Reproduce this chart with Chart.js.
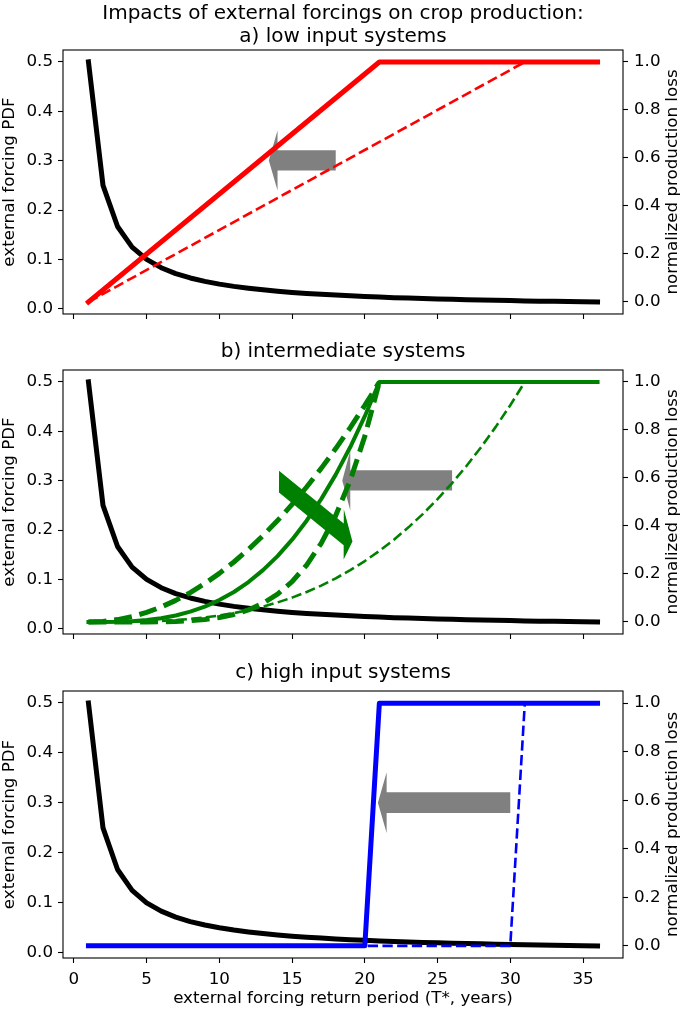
<!DOCTYPE html>
<html>
<head>
  <title>Impacts of external forcings on crop production</title>
  <style>
    body { margin: 0; background: #fff; }
    #fig { position: relative; width: 686px; height: 1011px; }
    #fig canvas { position: absolute; left: 0; }
  </style>
  <script src="https://cdn.jsdelivr.net/npm/chart.js"></script>
</head>
<body>
<div id="fig">
  <canvas id="panelA" width="686" height="330" style="top:0px"></canvas>
  <canvas id="panelB" width="686" height="320" style="top:330px"></canvas>
  <canvas id="panelC" width="686" height="361" style="top:650px"></canvas>
</div>
<script>
  // return period T* (years) and the PDF of the external forcing
  const returnPeriod = [1, 2, 3, 4, 5, 6, 7, 8, 9, 10, 11, 12, 13, 14, 15, 16, 17, 18,
    19, 20, 21, 22, 23, 24, 25, 26, 27, 28, 29, 30, 31, 32, 33, 34, 35, 36];
  const forcingPdf = [0.5, 0.25, 0.1667, 0.125, 0.1, 0.0833, 0.0714, 0.0625, 0.0556, 0.05,
    0.0455, 0.0417, 0.0385, 0.0357, 0.0333, 0.0313, 0.0294, 0.0278, 0.0263, 0.025,
    0.0238, 0.0227, 0.0217, 0.0208, 0.02, 0.0192, 0.0185, 0.0179, 0.0172, 0.0167,
    0.0161, 0.0156, 0.0152, 0.0147, 0.0143, 0.0139];

  // tick labels
  const periodTicks = [0, 5, 10, 15, 20, 25, 30, 35];
  const pdfTicks = [0, 0.1, 0.2, 0.3, 0.4, 0.5];
  const lossTicks = [0, 0.2, 0.4, 0.6, 0.8, 1];

  // a) low input systems
  const lowNowPeriod = [1, 21, 36];
  const lowLossNow = [0, 1, 1];
  const lowPastPeriod = [1, 31];
  const lowLossPast = [0, 1];

  // b) intermediate systems
  const midNowPeriod = [1, 2, 3, 4, 5, 6, 7, 8, 9, 10, 11, 12, 13, 14, 15, 16, 17, 18, 19, 20, 21, 36];
  const midLossNow = [0, 0.0001, 0.001, 0.0034, 0.008, 0.0156, 0.027, 0.0429, 0.064, 0.0911, 0.125,
    0.1664, 0.216, 0.2746, 0.343, 0.4219, 0.512, 0.6141, 0.729, 0.8574, 1, 1];
  const midRangePeriod = [1, 2, 3, 4, 5, 6, 7, 8, 9, 10, 11, 12, 13, 14, 15, 16, 17, 18, 19, 20, 21];
  const midLossEarly = [0, 0.0025, 0.01, 0.0225, 0.04, 0.0625, 0.09, 0.1225, 0.16, 0.2025, 0.25,
    0.3025, 0.36, 0.4225, 0.49, 0.5625, 0.64, 0.7225, 0.81, 0.9025, 1];
  const midLossLate = [0, 0, 0, 0.0001, 0.0003, 0.001, 0.0024, 0.0053, 0.0102, 0.0185, 0.0313,
    0.0503, 0.0778, 0.116, 0.1681, 0.2373, 0.3277, 0.4437, 0.5905, 0.7738, 1];
  const midPastPeriod = [1, 2, 3, 4, 5, 6, 7, 8, 9, 10, 11, 12, 13, 14, 15, 16, 17, 18, 19, 20,
    21, 22, 23, 24, 25, 26, 27, 28, 29, 30, 31];
  const midLossPast = [0, 0, 0.0003, 0.001, 0.0024, 0.0046, 0.008, 0.0127, 0.019, 0.027, 0.037,
    0.0493, 0.064, 0.0814, 0.1016, 0.125, 0.1517, 0.182, 0.216, 0.254, 0.2963, 0.343, 0.3944,
    0.4506, 0.512, 0.5787, 0.651, 0.729, 0.813, 0.9033, 1];

  // c) high input systems
  const highNowPeriod = [1, 20, 21, 36];
  const highLossNow = [0, 0, 1, 1];
  const highPastPeriod = [1, 30, 31];
  const highLossPast = [0, 0, 1];

  const FONT = "'DejaVu Sans', sans-serif";
  Chart.defaults.font.family = FONT;
  Chart.defaults.font.size = 16.7;
  Chart.defaults.color = '#000';

  function pts(xs, ys) {
    return xs.map((x, i) => ({x: x, y: ys[i]}));
  }

  function lossLine(xs, ys, color, width, dash) {
    return {
      data: pts(xs, ys), yAxisID: 'y2', borderColor: color, borderWidth: width,
      borderDash: dash || [], borderCapStyle: dash ? 'butt' : 'square', borderJoinStyle: 'round',
      pointRadius: 0, fill: false, tension: 0, order: 0
    };
  }

  function pdfLine() {
    return {
      data: pts(returnPeriod, forcingPdf), yAxisID: 'y', borderColor: '#000', borderWidth: 5,
      borderCapStyle: 'square', borderJoinStyle: 'round', pointRadius: 0, fill: false, order: 10
    };
  }

  function setTicks(values) {
    return s => { s.ticks = values.map(v => ({value: v})); };
  }

  // arrows given in data units (x axis / right axis), drawn like matplotlib's FancyArrow
  function arrowPlugin(items) {
    return {
      id: 'arrows',
      beforeDatasetsDraw(chart) {
        const xs = chart.scales.x, ys = chart.scales.y2, ctx = chart.ctx;
        items.forEach(a => {
          const dist = Math.hypot(a.dx, a.dy);
          const ux = a.dx / dist, uy = a.dy / dist;
          const len = dist + a.headLength;
          const back = len - a.headLength;
          const shape = [[0, a.width / 2], [back, a.width / 2], [back, a.headWidth / 2], [len, 0],
            [back, -a.headWidth / 2], [back, -a.width / 2], [0, -a.width / 2]];
          ctx.save();
          ctx.beginPath();
          shape.forEach(([s, t], i) => {
            const px = xs.getPixelForValue(a.x + s * ux - t * uy);
            const py = ys.getPixelForValue(a.y + s * uy + t * ux);
            if (i) ctx.lineTo(px, py); else ctx.moveTo(px, py);
          });
          ctx.closePath();
          ctx.fillStyle = a.color;
          ctx.fill();
          ctx.restore();
        });
      }
    };
  }

  const framePlugin = {
    id: 'frame',
    afterDatasetsDraw(chart) {
      const {ctx, chartArea: a} = chart;
      ctx.save();
      ctx.strokeStyle = '#000';
      ctx.lineWidth = 1.1;
      ctx.strokeRect(a.left, a.top, a.right - a.left, a.bottom - a.top);
      // right axis title reads bottom to top, like matplotlib
      ctx.translate(673, (a.top + a.bottom) / 2);
      ctx.rotate(-Math.PI / 2);
      ctx.fillStyle = '#000';
      ctx.font = '16.7px ' + FONT;
      ctx.textAlign = 'center';
      ctx.textBaseline = 'middle';
      ctx.fillText('normalized production loss', 0, 0);
      ctx.restore();
    }
  };

  function makePanel(id, title, titlePad, datasets, arrows, showX, xHeight) {
    const tickGrid = {drawOnChartArea: false, drawTicks: true, tickLength: 5, tickColor: '#000', tickWidth: 1.1};
    return new Chart(document.getElementById(id), {
      type: 'line',
      data: {datasets: datasets},
      options: {
        responsive: false,
        animation: false,
        layout: {padding: 0},
        plugins: {
          legend: {display: false},
          tooltip: {enabled: false},
          title: {
            display: true, text: title, color: '#000',
            font: {size: 20, weight: 'normal', lineHeight: 1.15},
            padding: titlePad
          }
        },
        scales: {
          x: {
            type: 'linear', min: -0.75, max: 37.75, bounds: 'data',
            afterBuildTicks: setTicks(periodTicks),
            ticks: {display: showX, padding: 7, maxRotation: 0},
            grid: tickGrid, border: {display: false},
            title: {display: showX, text: 'external forcing return period (T*, years)', padding: {top: 0, bottom: 2.5}},
            afterFit(s) { s.height = xHeight; }
          },
          y: {
            type: 'linear', position: 'left', min: -0.0104, max: 0.524, bounds: 'data',
            afterBuildTicks: setTicks(pdfTicks),
            ticks: {padding: 5, callback: v => v.toFixed(1)},
            grid: tickGrid, border: {display: false},
            title: {display: true, text: 'external forcing PDF', padding: {top: 0, bottom: 0}},
            afterFit(s) { s.width = 63; }
          },
          y2: {
            type: 'linear', position: 'right', min: -0.05, max: 1.05, bounds: 'data',
            afterBuildTicks: setTicks(lossTicks),
            ticks: {padding: 6, callback: v => v.toFixed(1)},
            grid: tickGrid, border: {display: false},
            afterFit(s) { s.width = 63; }
          }
        }
      },
      plugins: [arrowPlugin(arrows), framePlugin]
    });
  }

  makePanel('panelA',
    ['Impacts of external forcings on crop production:', 'a) low input systems'],
    {top: 2.5, bottom: 1.5},
    [
      lossLine(lowPastPeriod, lowLossPast, '#ff0000', 2.6, [10.3, 4.4]),
      lossLine(lowNowPeriod, lowLossNow, '#ff0000', 5),
      pdfLine()
    ],
    [{x: 18, y: 0.59, dx: -4, dy: 0, width: 0.085, headWidth: 0.25, headLength: 0.6, color: '#808080'}],
    false, 13);

  makePanel('panelB', 'b) intermediate systems', {top: 10.5, bottom: 6.5},
    [
      lossLine(midPastPeriod, midLossPast, '#008000', 2.6, [10.3, 4.4]),
      lossLine(midRangePeriod, midLossEarly, '#008000', 5, [18, 7.8]),
      lossLine(midRangePeriod, midLossLate, '#008000', 5, [18, 7.8]),
      lossLine(midNowPeriod, midLossNow, '#008000', 4),
      pdfLine()
    ],
    [
      {x: 26, y: 0.59, dx: -7, dy: 0, width: 0.085, headWidth: 0.25, headLength: 0.55, color: '#808080'},
      {x: 14.1, y: 0.585, dx: 4.45, dy: -0.22, width: 0.09, headWidth: 0.21, headLength: 0.6, color: '#008000'}
    ],
    false, 13);

  makePanel('panelC', 'c) high input systems', {top: 11.5, bottom: 6.5},
    [
      lossLine(highPastPeriod, highLossPast, '#0000ff', 2.6, [10.3, 4.4]),
      lossLine(highNowPeriod, highLossNow, '#0000ff', 5),
      pdfLine()
    ],
    [{x: 30, y: 0.59, dx: -8.5, dy: 0, width: 0.085, headWidth: 0.25, headLength: 0.6, color: '#808080'}],
    true, 53);
</script>
</body>
</html>
